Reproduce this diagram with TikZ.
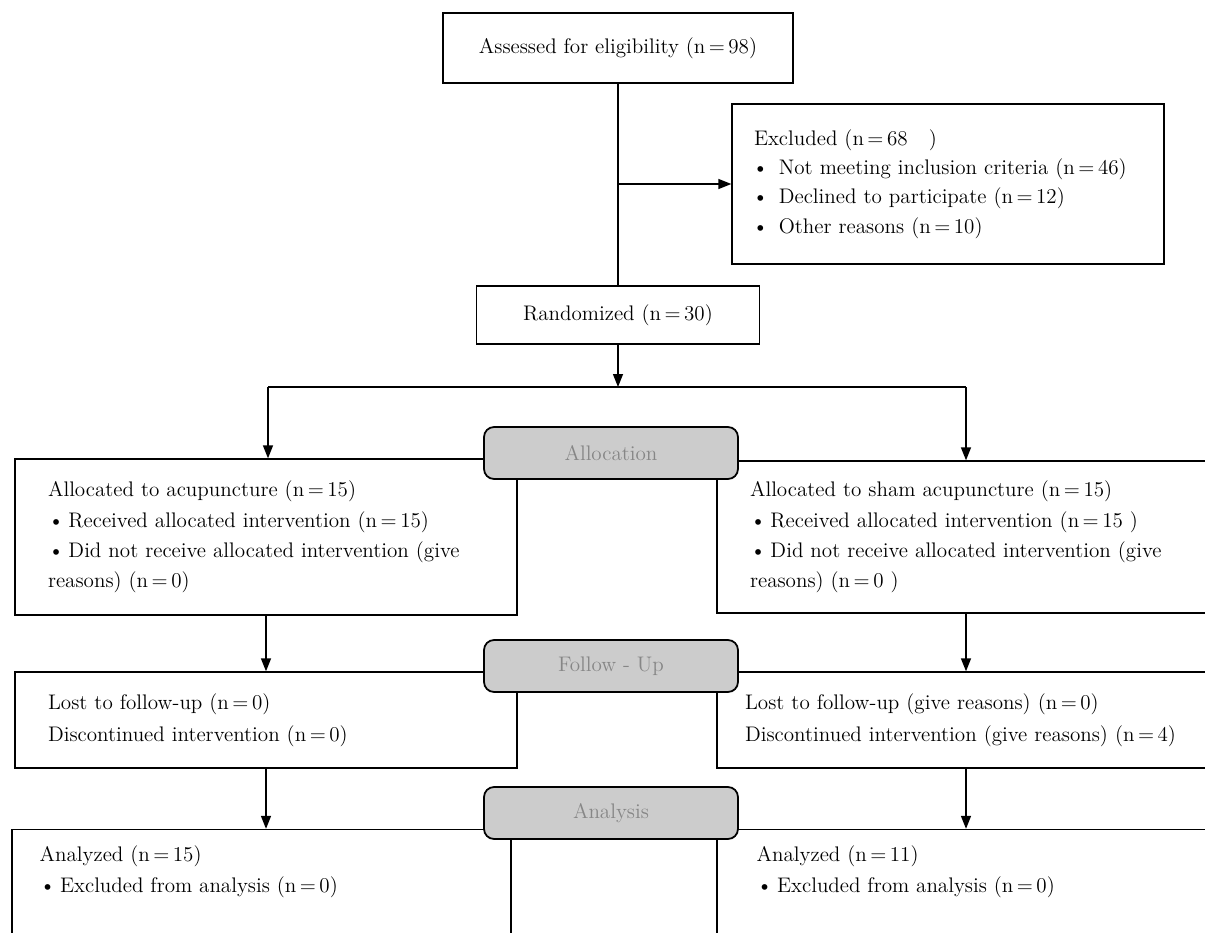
\documentclass[tikz,border=0pt]{standalone}
\usepackage{tikz}
\usetikzlibrary{arrows.meta,calc,positioning}

\tikzset{
  box/.style={draw,line width=0.8pt,rectangle,fill=white},
  stage/.style={draw,line width=1pt,rounded corners=0.2cm,fill=gray!40,text=gray!95,
    minimum width=5.08cm,minimum height=1.04cm,font=\fontsize{12}{14}\selectfont},
  arr/.style={-{Triangle[length=0.26cm,width=0.2cm]},line width=0.8pt},
  line/.style={line width=0.8pt}
}
\newcommand{\bul}{\textbullet\hspace{2.5pt}}

\begin{document}
\begin{tikzpicture}[x=0.02cm,y=-0.02cm]
  \useasboundingbox (0,0) rectangle (1205,933);
  \clip (0,0) rectangle (1205,933);
  % enrolment
  \node[box,minimum width=7cm,minimum height=1.4cm,font=\fontsize{12}{14}\selectfont] (assess) at (618,48) {Assessed for eligibility (n\,=\,98)};
  \node[box,minimum width=8.64cm,minimum height=3.2cm,inner xsep=0.44cm,text width=7.76cm,align=left,
    font=\fontsize{12}{16.7}\selectfont] (excl) at (948,184)
    {Excluded (n\,=\,68\ \ \ )\\
     \hspace*{-1pt}\textbullet\hspace{6pt}Not meeting inclusion criteria (n\,=\,46)\\
     \hspace*{-1pt}\textbullet\hspace{6pt}Declined to participate (n\,=\,12)\\
     \hspace*{-1pt}\textbullet\hspace{6pt}Other reasons (n\,=\,10)};
  \node[box,minimum width=5.66cm,minimum height=1.16cm,font=\fontsize{12}{14}\selectfont] (rand) at (618,315) {Randomized (n\,=\,30)};
  % allocation
  \node[box,minimum width=10.04cm,minimum height=3.12cm,inner xsep=0.66cm,text width=8.72cm,align=left,
    font=\fontsize{12}{17.3}\selectfont] (acuA) at (266,537)
    {Allocated to acupuncture (n\,=\,15)\\
     \bul Received allocated intervention (n\,=\,15)\\
     \bul Did not receive allocated intervention (give\\
     reasons) (n\,=\,0)};
  \node[box,minimum width=9.96cm,minimum height=3.04cm,inner xsep=0.66cm,text width=8.64cm,align=left,
    font=\fontsize{12}{17.3}\selectfont] (shamA) at (966,537)
    {Allocated to sham acupuncture (n\,=\,15)\\
     \bul Received allocated intervention (n\,=\,15 )\\
     \bul Did not receive allocated intervention (give\\
     reasons) (n\,=\,0 )};
  % follow-up
  \node[box,minimum width=10.04cm,minimum height=1.92cm,inner xsep=0.66cm,text width=8.72cm,align=left,
    font=\fontsize{12}{18.2}\selectfont] (acuF) at (266,720)
    {Lost to follow-up (n\,=\,0)\\
     Discontinued intervention (n\,=\,0)};
  \node[box,minimum width=9.96cm,minimum height=1.92cm,inner xsep=0.56cm,text width=8.84cm,align=left,
    font=\fontsize{12}{18.2}\selectfont] (shamF) at (966,720)
    {Lost to follow-up (give reasons) (n\,=\,0)\\
     Discontinued intervention (give reasons) (n\,=\,4)};
  % analysis
  \node[box,minimum width=9.98cm,minimum height=2.62cm] (acuN) at (261.5,895) {};
  \node[box,minimum width=9.96cm,minimum height=2.62cm] (shamN) at (966,895) {};
  \node[anchor=north west,inner sep=0pt,align=left,font=\fontsize{12}{17.3}\selectfont] (acuNtxt)
    at ($(acuN.north west)+(28,17)$)
    {Analyzed (n\,=\,15)\\
     \bul Excluded from analysis (n\,=\,0)};
  \node[anchor=north west,inner sep=0pt,align=left,font=\fontsize{12}{17.3}\selectfont] (shamNtxt)
    at ($(shamN.north west)+(40,17)$)
    {Analyzed (n\,=\,11)\\
     \bul Excluded from analysis (n\,=\,0)};

  % connectors
  \coordinate (branch) at (assess.south |- excl.west);
  \coordinate (split) at (618,387);
  \coordinate (splitL) at (268,387);
  \coordinate (splitR) at (966,387);
  \draw[line] (assess.south) -- (rand.north);
  \draw[arr] (branch) -- (excl.west);
  \draw[arr] (rand.south) -- (split);
  \draw[line] (splitL) -- (splitR);
  \draw[arr] (splitL) -- (splitL |- acuA.north);
  \draw[arr] (splitR) -- (splitR |- shamA.north);
  \draw[arr] (acuA.south) -- (acuF.north);
  \draw[arr] (shamA.south) -- (shamF.north);
  \draw[arr] (acuF.south) -- (acuF.south |- acuN.north);
  \draw[arr] (shamF.south) -- (shamF.south |- shamN.north);

  % stage labels
  \foreach \nm/\y/\lab in {alloc/453/Allocation, follow/666/Follow - Up, anal/813/Analysis}
  { \node[stage] (\nm) at (611,\y) {\lab}; }
\end{tikzpicture}
\end{document}
